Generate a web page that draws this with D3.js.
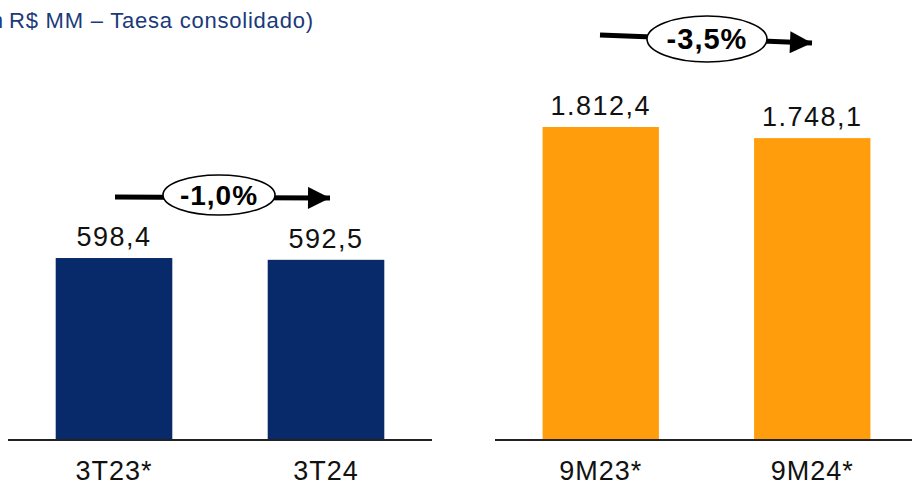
<!DOCTYPE html>
<html><head><meta charset="utf-8">
<script src="https://cdn.jsdelivr.net/npm/d3@7"></script>
<style>html,body{margin:0;padding:0;background:#fff;overflow:hidden}</style>
</head><body>
<svg id="c" width="912" height="485"></svg>
<script>
const subtitlePrefix = "(em";
const subtitle = "R$ MM – Taesa consolidado)";
const qCategories = ["3T23*", "3T24"];
const qValues = [598.4, 592.5];
const qLabels = ["598,4", "592,5"];
const qChange = "-1,0%";
const yCategories = ["9M23*", "9M24*"];
const yValues = [1812.4, 1748.1];
const yLabels = ["1.812,4", "1.748,1"];
const yChange = "-3,5%";

const svg = d3.select("#c");
const baseY = 440;
const FONT = "'Liberation Sans', Arial, sans-serif";

svg.append("text").attr("x", 3).attr("y", 28).attr("text-anchor", "end")
  .attr("font-family", FONT).attr("font-size", 22).attr("fill", "#1B3A7A")
  .text(subtitlePrefix);
svg.append("text").attr("x", 9).attr("y", 28)
  .attr("font-family", FONT).attr("font-size", 22).attr("fill", "#1B3A7A")
  .attr("textLength", 304).attr("lengthAdjust", "spacing")
  .text(subtitle);

function panel(cats, vals, labels, range, pxPerUnit, color, axisRange) {
  const x = d3.scaleBand().domain(cats).range(range).paddingInner(0.45).paddingOuter(0.225);
  const y = d3.scaleLinear().domain([0, 1]).range([baseY, baseY - pxPerUnit]);
  const g = svg.append("g");
  g.selectAll("rect").data(vals).join("rect")
    .attr("x", (d, i) => x(cats[i])).attr("width", x.bandwidth())
    .attr("y", d => y(d)).attr("height", d => baseY - y(d)).attr("fill", color);
  g.append("line").attr("x1", axisRange[0]).attr("x2", axisRange[1])
    .attr("y1", baseY).attr("y2", baseY).attr("stroke", "#222").attr("stroke-width", 2);
  g.selectAll("text.v").data(vals).join("text").attr("class", "v")
    .attr("x", (d, i) => x(cats[i]) + x.bandwidth() / 2).attr("y", d => y(d) - 12)
    .attr("text-anchor", "middle").attr("font-family", FONT).attr("font-size", 27)
    .attr("letter-spacing", 1.5).attr("fill", "#111").text((d, i) => labels[i]);
  g.selectAll("text.c").data(cats).join("text").attr("class", "c")
    .attr("x", d => x(d) + x.bandwidth() / 2).attr("y", 480)
    .attr("text-anchor", "middle").attr("font-family", FONT).attr("font-size", 27)
    .attr("letter-spacing", 1).attr("fill", "#111").text(d => d);
  return x;
}

panel(qCategories, qValues, qLabels, [8, 432], 0.3041, "#08296A", [8, 432]);
panel(yCategories, yValues, yLabels, [495, 918], 0.1727, "#FF9D0C", [495, 912]);

svg.append("defs").append("marker").attr("id", "ah").attr("viewBox", "0 0 10 10")
  .attr("refX", 10).attr("refY", 5).attr("markerWidth", 4.6).attr("markerHeight", 4.4)
  .attr("markerUnits", "strokeWidth").attr("orient", "auto")
  .append("path").attr("d", "M0,0 L10,5 L0,10 Z").attr("fill", "#000");

function changeBadge(x1, y1, x2, y2, cx, cy, rx, ry, label, fs) {
  svg.append("line").attr("x1", x1).attr("y1", y1).attr("x2", x2).attr("y2", y2)
    .attr("stroke", "#000").attr("stroke-width", 5).attr("marker-end", "url(#ah)");
  svg.append("ellipse").attr("cx", cx).attr("cy", cy).attr("rx", rx).attr("ry", ry)
    .attr("fill", "#fff").attr("stroke", "#000").attr("stroke-width", 1.6);
  svg.append("text").attr("x", cx).attr("y", cy + fs * 0.36).attr("text-anchor", "middle")
    .attr("font-family", FONT).attr("font-weight", "bold").attr("font-size", fs)
    .attr("letter-spacing", 1).attr("fill", "#000").text(label);
}
changeBadge(115, 197, 330, 198, 219, 195, 56, 20, qChange, 28);
changeBadge(600, 35, 812, 43, 707, 39, 60, 23, yChange, 29);
</script>
</body></html>
